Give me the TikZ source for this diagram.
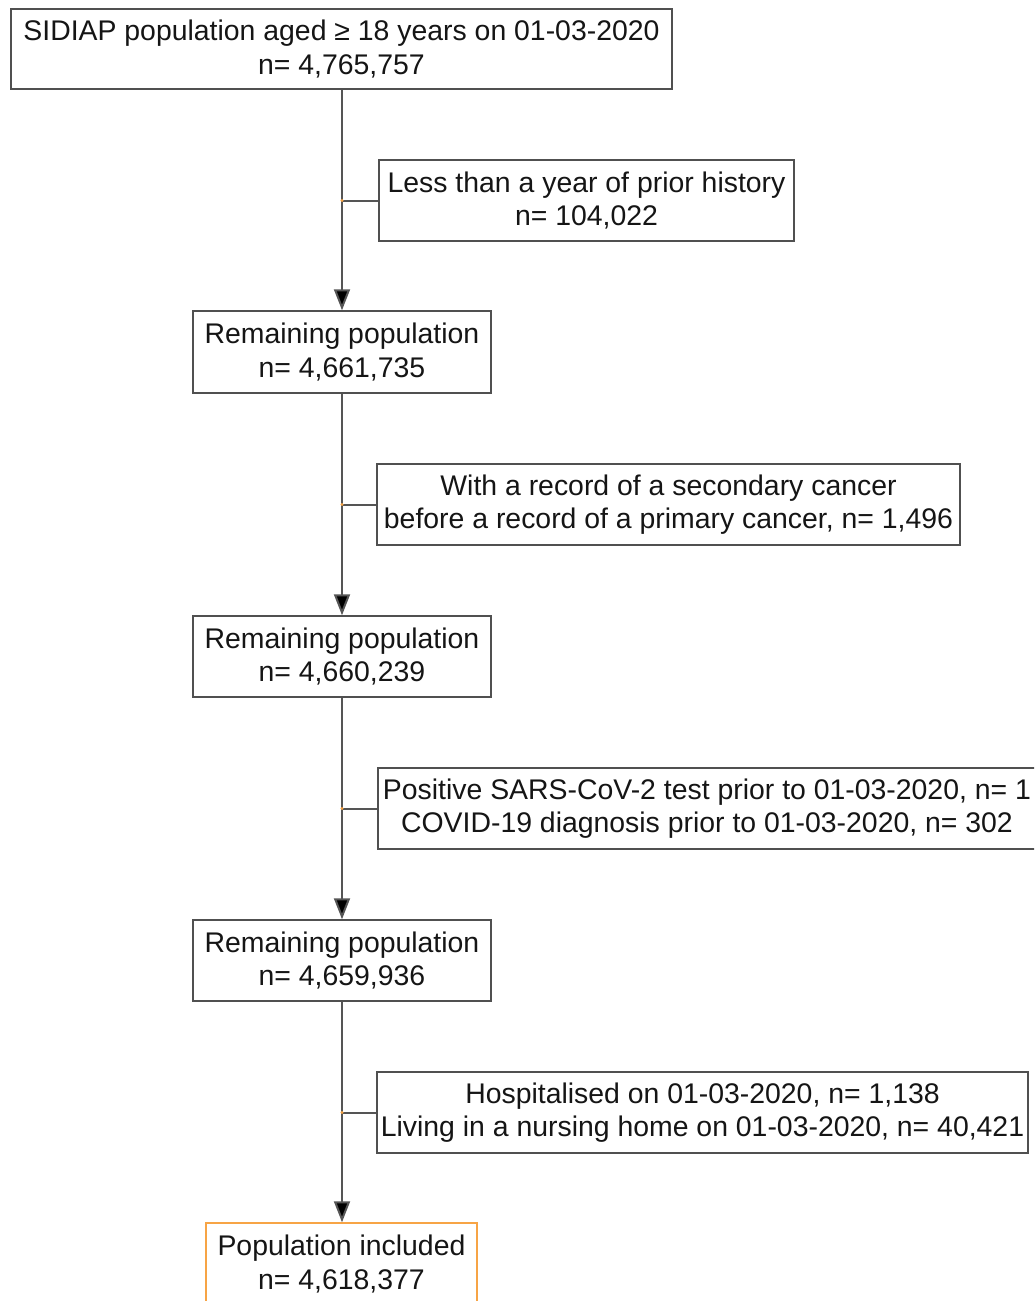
\documentclass[tikz,border=0pt]{standalone}
\usepackage{fontspec}
\setmainfont{Liberation Sans}
\usetikzlibrary{arrows.meta}
\definecolor{boxgray}{HTML}{505050}
\definecolor{linegray}{HTML}{555555}
\definecolor{boxorange}{HTML}{F7A445}
\definecolor{txt}{HTML}{151515}
\begin{document}
\begin{tikzpicture}[x=1pt,y=-1pt,
  box/.style={draw=boxgray,line width=1.5pt,fill=white,align=center,inner sep=0pt,
    font=\fontsize{28.4}{33.5}\selectfont,text=txt},
  finalbox/.style={box,draw=boxorange},
  flow/.style={draw=linegray,line width=2pt,-{Triangle[width=16pt,length=21pt,fill=black]}},
  tick/.style={draw=linegray,line width=2pt},
  junct/.style={fill=boxorange,draw=none}]
\useasboundingbox (0,0) rectangle (1034,1301);
\clip (0,0) rectangle (1034,1301);
\node[box,minimum width=661pt,minimum height=80pt] (b1) at (341.5,49) {SIDIAP population aged ≥ 18 years on 01-03-2020\\n= 4,765,757};
\node[box,minimum width=415pt,minimum height=81pt] (e1) at (586.5,200.5) {Less than a year of prior history\\n= 104,022};
\node[box,minimum width=298pt,minimum height=82pt] (b2) at (342,352) {Remaining population\\n= 4,661,735};
\node[box,minimum width=583pt,minimum height=81pt] (e2) at (668.5,504.5) {With a record of a secondary cancer\\before a record of a primary cancer, n= 1,496};
\node[box,minimum width=298pt,minimum height=81pt] (b3) at (342,656.5) {Remaining population\\n= 4,660,239};
\node[box,minimum width=658pt,minimum height=81pt] (e3) at (707,808.5) {Positive SARS-CoV-2 test prior to 01-03-2020, n= 1\\COVID-19 diagnosis prior to 01-03-2020, n= 302};
\node[box,minimum width=298pt,minimum height=81pt] (b4) at (342,960.5) {Remaining population\\n= 4,659,936};
\node[box,minimum width=651pt,minimum height=81pt] (e4) at (702.5,1112.5) {Hospitalised on 01-03-2020, n= 1,138\\Living in a nursing home on 01-03-2020, n= 40,421};
\node[finalbox,minimum width=271pt,minimum height=82pt] (b5) at (341.5,1264) {Population included\\n= 4,618,377};
% trunk
\draw[flow] (b1.south -| b2.north) -- (b2.north);
\draw[flow] (b2.south) -- (b3.north);
\draw[flow] (b3.south) -- (b4.north);
\draw[flow] (b4.south) -- (b5.north -| b4.south);
% exclusion ticks
\coordinate (j1) at (e1.west -| b2.north);
\coordinate (j2) at (e2.west -| b2.north);
\coordinate (j3) at (e3.west -| b2.north);
\coordinate (j4) at (e4.west -| b2.north);
\draw[tick] (j1) -- (e1.west);
\draw[tick] (j2) -- (e2.west);
\draw[tick] (j3) -- (e3.west);
\draw[tick] (j4) -- (e4.west);
\foreach \j in {j1,j2,j3,j4} \fill[junct] (\j) circle (1.6pt);
\end{tikzpicture}
\end{document}
